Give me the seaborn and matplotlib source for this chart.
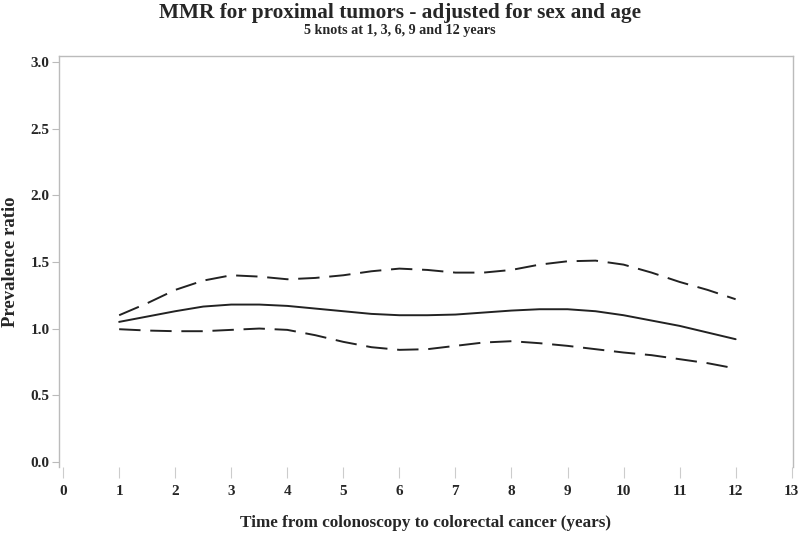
import matplotlib
matplotlib.use('Agg')
import matplotlib.pyplot as plt
import seaborn as sns
import pandas as pd

# values (half-year steps)
years = [1, 1.5, 2, 2.5, 3, 3.5, 4, 4.5, 5, 5.5, 6, 6.5, 7, 7.5, 8, 8.5,
         9, 9.5, 10, 10.5, 11, 11.5, 12]
ratio = [1.05, 1.09, 1.13, 1.165, 1.18, 1.18, 1.17, 1.15, 1.13, 1.11, 1.10, 1.10,
         1.105, 1.12, 1.135, 1.145, 1.145, 1.13, 1.10, 1.06, 1.02, 0.97, 0.92]
upper = [1.10, 1.19, 1.29, 1.36, 1.40, 1.39, 1.37, 1.38, 1.40, 1.43, 1.45, 1.44,
         1.42, 1.42, 1.44, 1.48, 1.505, 1.51, 1.48, 1.42, 1.35, 1.29, 1.22]
lower = [0.995, 0.985, 0.98, 0.98, 0.99, 1.00, 0.99, 0.95, 0.90, 0.86, 0.84, 0.845,
         0.87, 0.895, 0.905, 0.89, 0.87, 0.845, 0.82, 0.80, 0.77, 0.74, 0.70]

xticks = list(range(0, 14))
yticks = [0.0, 0.5, 1.0, 1.5, 2.0, 2.5, 3.0]

df = pd.DataFrame({'year': years, 'ratio': ratio, 'upper': upper, 'lower': lower})

sns.set_style('white')
plt.rcParams['font.family'] = ['Liberation Serif', 'DejaVu Serif']
plt.rcParams['font.weight'] = 'bold'

fig = plt.figure(figsize=(8, 5.35), dpi=100)
ax = fig.add_axes([0.074, 0.127, 0.917, 0.768])

dash = (0, (11, 5))
sns.lineplot(data=df, x='year', y='ratio', color='#222222', lw=1.4, ax=ax)
sns.lineplot(data=df, x='year', y='upper', color='#222222', lw=1.4, linestyle=dash, ax=ax)
sns.lineplot(data=df, x='year', y='lower', color='#222222', lw=1.4, linestyle=dash, ax=ax)

ax.set_xlim(-0.07, 13.02)
ax.set_ylim(-0.04, 3.045)
ax.set_xticks(xticks)
ax.set_yticks(yticks)
ax.set_yticklabels([f'{v:.1f}' for v in yticks])

for s in ['top', 'left', 'right']:
    ax.spines[s].set_color('#bbbbbb')
    ax.spines[s].set_linewidth(1)
ax.spines['bottom'].set_visible(False)

ax.tick_params(axis='x', bottom=True, length=8, width=0.8, color='#cccccc',
               labelsize=11, pad=5)
ax.tick_params(axis='y', left=True, length=5, width=0.8, color='#bbbbbb',
               labelsize=11, pad=2)
for lab in ax.get_xticklabels() + ax.get_yticklabels():
    lab.set_fontweight('bold')

ax.set_xlabel('Time from colonoscopy to colorectal cancer (years)',
              fontsize=12.3, fontweight='bold', labelpad=12)
ax.set_ylabel('Prevalence ratio', fontsize=13.5, fontweight='bold', labelpad=8)

fig.text(0.5, 0.976, 'MMR for proximal tumors - adjusted for sex and age',
         ha='center', va='center', fontsize=15.3, fontweight='bold')
fig.text(0.5, 0.943, '5 knots at 1, 3, 6, 9 and 12 years',
         ha='center', va='center', fontsize=10.2, fontweight='bold')

fig.savefig('out.png', dpi=100)
